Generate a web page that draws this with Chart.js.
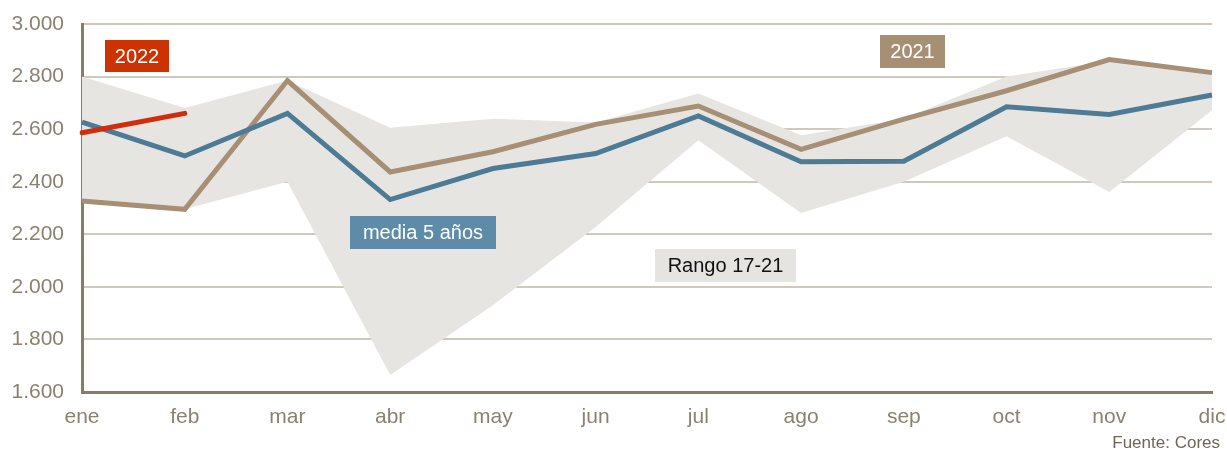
<!DOCTYPE html>
<html>
<head>
<meta charset="utf-8">
<script src="https://cdn.jsdelivr.net/npm/chart.js@4/dist/chart.umd.min.js"></script>
<style>
  html, body { margin: 0; padding: 0; background: #fff; }
  #wrap { width: 1227px; height: 452px; position: relative; }
</style>
</head>
<body>
<div id="wrap"><canvas id="chart"></canvas></div>
<script>
const meses = ['ene', 'feb', 'mar', 'abr', 'may', 'jun', 'jul', 'ago', 'sep', 'oct', 'nov', 'dic'];
const rangoMax = [2800, 2680, 2785, 2605, 2640, 2625, 2736, 2577, 2640, 2800, 2860, 2815];
const rangoMin = [2330, 2295, 2400, 1665, 1930, 2228, 2558, 2281, 2400, 2573, 2361, 2672];
const serie2021 = [2327, 2295, 2785, 2437, 2514, 2618, 2688, 2523, 2638, 2746, 2865, 2815];
const media5 = [2627, 2498, 2660, 2332, 2450, 2507, 2650, 2476, 2478, 2685, 2656, 2730];
const serie2022 = [2586, 2660];
const yTicks = [1600, 1800, 2000, 2200, 2400, 2600, 2800, 3000];

const FONT = '"Liberation Sans", Arial, sans-serif';
const TICK_COLOR = '#8b8170';
const AXIS_COLOR = '#877c64';
const GRID_COLOR = '#cfc8bb';
const BAND_COLOR = '#e7e5e1';

// text boxes drawn on top of the chart
const boxes = [
  { text: '2022', x: 105, y: 40, w: 64, h: 32, bg: '#cc3300', fg: '#ffffff' },
  { text: '2021', x: 880, y: 35, w: 65, h: 33, bg: '#a68f73', fg: '#ffffff' },
  { text: 'media 5 años', x: 350, y: 216, w: 146, h: 33, bg: '#5e8ca8', fg: '#ffffff' },
  { text: 'Rango 17-21', x: 655, y: 249, w: 141, h: 33, bg: '#e6e4e0', fg: '#111111' }
];

const labelsPlugin = {
  id: 'labels',
  afterDraw(chart) {
    const ctx = chart.ctx;
    ctx.save();
    ctx.font = '20px ' + FONT;
    ctx.textAlign = 'center';
    ctx.textBaseline = 'middle';
    boxes.forEach(b => {
      ctx.fillStyle = b.bg;
      ctx.fillRect(b.x, b.y, b.w, b.h);
      ctx.fillStyle = b.fg;
      ctx.fillText(b.text, b.x + b.w / 2, b.y + b.h / 2 + 1);
    });
    ctx.font = '17px ' + FONT;
    ctx.textAlign = 'right';
    ctx.fillStyle = '#6f6658';
    ctx.fillText('Fuente: Cores', 1220, 443);
    ctx.restore();
  }
};

new Chart(document.getElementById('chart'), {
  type: 'line',
  data: {
    labels: meses,
    datasets: [
      {
        label: 'Rango max',
        data: rangoMax,
        borderWidth: 0,
        pointRadius: 0,
        backgroundColor: BAND_COLOR,
        fill: '+1',
        order: 10
      },
      {
        label: 'Rango min',
        data: rangoMin,
        borderWidth: 0,
        pointRadius: 0,
        backgroundColor: BAND_COLOR,
        fill: false,
        order: 11
      },
      {
        label: '2021',
        data: serie2021,
        borderColor: '#a68f74',
        borderWidth: 5,
        pointRadius: 0,
        fill: false,
        order: 3
      },
      {
        label: 'media 5 años',
        data: media5,
        borderColor: '#4d7a95',
        borderWidth: 5,
        pointRadius: 0,
        fill: false,
        order: 2
      },
      {
        label: '2022',
        data: serie2022,
        borderColor: '#d12d0c',
        borderWidth: 5,
        borderCapStyle: 'round',
        pointRadius: 0,
        fill: false,
        order: 1
      }
    ]
  },
  options: {
    responsive: true,
    maintainAspectRatio: false,
    animation: false,
    layout: { padding: { top: 24, right: 15, left: 0, bottom: 0 } },
    plugins: {
      legend: { display: false },
      tooltip: { enabled: false }
    },
    scales: {
      x: {
        offset: false,
        grid: { display: false, drawTicks: false },
        border: { display: true, color: AXIS_COLOR, width: 3 },
        ticks: {
          color: TICK_COLOR,
          font: { family: FONT, size: 21 },
          padding: 13,
          maxRotation: 0,
          autoSkip: false
        },
        afterFit(scale) {
          scale.height = 60;
          scale.paddingLeft = 0;
          scale.paddingRight = 0;
        }
      },
      y: {
        min: 1600,
        max: 3000,
        afterBuildTicks(scale) { scale.ticks = yTicks.map(v => ({ value: v })); },
        grid: { color: GRID_COLOR, lineWidth: 2, drawTicks: false },
        border: { display: true, color: AXIS_COLOR, width: 3 },
        ticks: {
          color: TICK_COLOR,
          font: { family: FONT, size: 21 },
          padding: 18,
          callback: v => v.toLocaleString('de-DE')
        },
        afterFit(scale) {
          scale.width = 82;
          scale.paddingTop = 0;
          scale.paddingBottom = 0;
        }
      }
    }
  },
  plugins: [labelsPlugin]
});
</script>
</body>
</html>
